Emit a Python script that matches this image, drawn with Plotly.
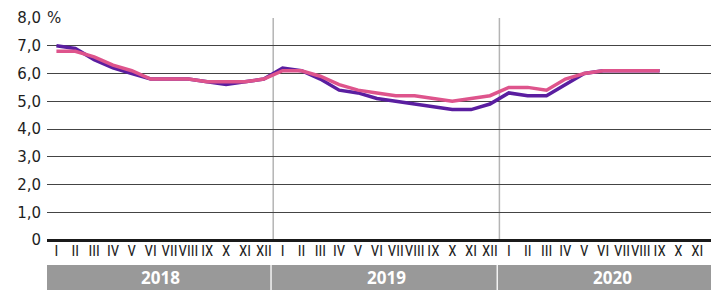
import plotly.graph_objects as go

months = ["I", "II", "III", "IV", "V", "VI", "VII", "VIII", "IX", "X", "XI", "XII"]
years = ["2018", "2019", "2020"]
series_a = [7.0, 6.9, 6.5, 6.2, 6.0, 5.8, 5.8, 5.8, 5.7, 5.6, 5.7, 5.8,
            6.2, 6.1, 5.8, 5.4, 5.3, 5.1, 5.0, 4.9, 4.8, 4.7, 4.7, 4.9,
            5.3, 5.2, 5.2, 5.6, 6.0, 6.1, 6.1, 6.1, 6.1]
series_b = [6.8, 6.8, 6.6, 6.3, 6.1, 5.8, 5.8, 5.8, 5.7, 5.7, 5.7, 5.8,
            6.1, 6.1, 5.9, 5.6, 5.4, 5.3, 5.2, 5.2, 5.1, 5.0, 5.1, 5.2,
            5.5, 5.5, 5.4, 5.8, 6.0, 6.1, 6.1, 6.1, 6.1]
y_ticks = [0, 1, 2, 3, 4, 5, 6, 7, 8]
y_ticktext = ["0", "1,0", "2,0", "3,0", "4,0", "5,0", "6,0", "7,0", "8,0"]

n_months = len(months) * len(years)
x_all = list(range(n_months))
tick_text = months * len(years)

PURPLE = "rgb(90,30,160)"
PINK = "rgb(222,84,140)"
TXT = "#1e1e1e"

fig = go.Figure()
fig.add_trace(go.Scatter(x=x_all[:len(series_a)], y=series_a, mode="lines",
                         line=dict(color=PURPLE, width=3.5), showlegend=False))
fig.add_trace(go.Scatter(x=x_all[:len(series_b)], y=series_b, mode="lines",
                         line=dict(color=PINK, width=3.5), showlegend=False))

shapes = []
annotations = []
for k, yr in enumerate(years):
    start = k * len(months)
    x0 = start - 0.58
    x1 = start + len(months) - 0.65 if k < len(years) - 1 else start + len(months) + 1
    shapes.append(dict(type="rect", xref="x", yref="paper", x0=x0, x1=x1,
                       y0=-0.1126, y1=-0.30, fillcolor="#999999", line=dict(width=0),
                       layer="above"))
    annotations.append(dict(text="<b>%s</b>" % yr, xref="x", yref="paper",
                            x=start + 5.5, y=-0.169, showarrow=False,
                            font=dict(family="Open Sans", size=17, color="white"),
                            xanchor="center", yanchor="middle"))
    if k > 0:
        shapes.append(dict(type="line", xref="x", yref="paper", x0=start - 0.5, x1=start - 0.5,
                           y0=0, y1=1, line=dict(color="#b4b4b4", width=1.5), layer="below"))

annotations.append(dict(text="%", xref="paper", yref="y", x=0, y=8, xanchor="left",
                        yanchor="middle", showarrow=False, bgcolor="white", borderpad=0,
                        xshift=-1, font=dict(family="DejaVu Sans", size=15, color=TXT)))

# page body has an 8px margin: compensate so the plot lands where the reference has it
fig.update_layout(
    width=711, height=282,
    margin=dict(l=39, r=0, t=10, b=50),
    paper_bgcolor="white", plot_bgcolor="white",
    shapes=shapes, annotations=annotations,
    xaxis=dict(range=[-0.5, 35.15], tickmode="array", tickvals=x_all, ticktext=tick_text,
               showgrid=False, zeroline=False, showline=False, ticks="",
               tickfont=dict(family="Liberation Sans Narrow, Roboto Condensed, Roboto",
                             size=15, color=TXT),
               tickangle=0, fixedrange=True, automargin=False),
    yaxis=dict(range=[0, 8], tickmode="array", tickvals=y_ticks, ticktext=y_ticktext,
               showgrid=True, gridcolor="#444444", gridwidth=1,
               zeroline=True, zerolinecolor="#1a1a1a", zerolinewidth=2.5,
               showline=False, ticks="", ticklabelstandoff=5, automargin=False,
               tickfont=dict(family="DejaVu Sans", size=15, color=TXT)),
)

fig.write_html("out.html")
